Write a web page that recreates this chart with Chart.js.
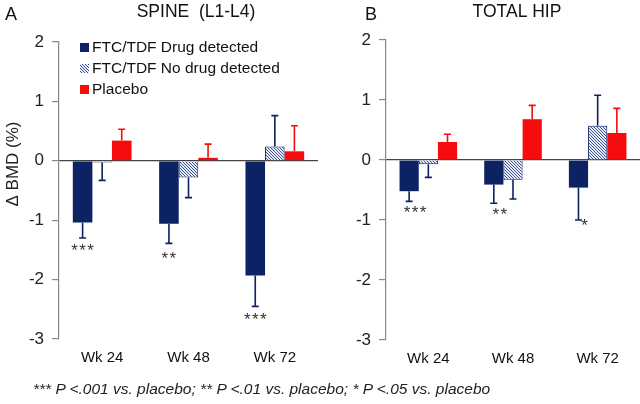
<!DOCTYPE html>
<html>
<head>
<meta charset="utf-8">
<script src="https://cdn.jsdelivr.net/npm/chart.js@4.4.1/dist/chart.umd.min.js"></script>
<style>
  html, body { margin: 0; padding: 0; background: #fff; }
  #wrap { position: relative; width: 640px; height: 404px; overflow: hidden; }
  #left { position: absolute; left: 0; top: 0; }
  #right { position: absolute; left: 320px; top: 0; }
  #note {
    position: absolute; left: 33px; top: 380px;
    font: italic 15.5px "Liberation Sans", Arial, sans-serif; color: #222;
    white-space: nowrap;
  }
</style>
</head>
<body>
<div id="wrap">
  <canvas id="left" width="320" height="404"></canvas>
  <canvas id="right" width="320" height="404"></canvas>
  <div id="note">*** <i>P</i> &lt;.001 vs. placebo; ** <i>P</i> &lt;.01 vs. placebo; * <i>P</i> &lt;.05 vs. placebo</div>
</div>
<script>
// ---- data ----
const weeks = ['Wk 24', 'Wk 48', 'Wk 72'];
const seriesLabels = ['FTC/TDF Drug detected', 'FTC/TDF No drug detected', 'Placebo'];
const yTicks = [2, 1, 0, -1, -2, -3];

// Spine (L1-L4): mean change and error bar length
const spineDrug = [-1.04, -1.06, -1.93];
const spineDrugErr = [0.26, 0.33, 0.52];
const spineNoDrug = [-0.03, -0.28, 0.24];
const spineNoDrugErr = [0.30, 0.34, 0.52];
const spinePlacebo = [0.34, 0.05, 0.16];
const spinePlaceboErr = [0.19, 0.23, 0.43];
const spineStars = ['***', '**', '***'];

// Total hip
const hipDrug = [-0.52, -0.41, -0.46];
const hipDrugErr = [0.17, 0.31, 0.54];
const hipNoDrug = [-0.07, -0.33, 0.57];
const hipNoDrugErr = [0.22, 0.32, 0.51];
const hipPlacebo = [0.30, 0.68, 0.45];
const hipPlaceboErr = [0.13, 0.23, 0.41];
const hipStars = ['***', '**', '*'];

const NAVY = '#0c2262';
const RED = '#f50d0d';
const FONT = '"Liberation Sans", Arial, sans-serif';

/**
 * Diagonal hatch used for the "no drug detected" bars
 */
function hatchPattern() {
    const c = document.createElement('canvas');
    c.width = 3; c.height = 3;
    const g = c.getContext('2d');
    g.fillStyle = '#e8ecf5';
    g.fillRect(0, 0, 3, 3);
    g.fillStyle = '#3a5290';
    // one pixel per row, stepping right -> "\" stripes
    for (let i = 0; i < 3; i++) g.fillRect(i, i, 1, 1);
    return g.createPattern(c, 'repeat');
}
const HATCH = hatchPattern();

/**
 * Error bars, significance stars, panel text and legend
 */
const extrasPlugin = {
    id: 'extras',
    afterDatasetsDraw(chart, args, opts) {
        const ctx = chart.ctx;
        const y = chart.scales.y;
        ctx.save();
        // error bars
        chart.data.datasets.forEach((ds, d) => {
            const meta = chart.getDatasetMeta(d);
            meta.data.forEach((bar, i) => {
                const v = ds.data[i];
                const end = v + Math.sign(v || 1) * ds.errors[i];
                const y0 = y.getPixelForValue(v);
                const y1 = y.getPixelForValue(end);
                ctx.strokeStyle = ds.errorColor;
                ctx.lineWidth = 1.6;
                ctx.beginPath();
                ctx.moveTo(bar.x, y0);
                ctx.lineTo(bar.x, y1);
                ctx.moveTo(bar.x - 3.5, y1);
                ctx.lineTo(bar.x + 3.5, y1);
                ctx.stroke();
            });
        });
        // stars under the drug-detected bars
        const meta0 = chart.getDatasetMeta(0);
        const ds0 = chart.data.datasets[0];
        ctx.fillStyle = '#333';
        ctx.font = '17px ' + FONT;
        ctx.textAlign = 'center';
        ctx.textBaseline = 'top';
        opts.stars.forEach((s, i) => {
            const bar = meta0.data[i];
            const yEnd = y.getPixelForValue(ds0.data[i] - ds0.errors[i]);
            const n = s.length;
            for (let k = 0; k < n; k++) {
                const dx = (k - (n - 1) / 2) * 8 + opts.starShift;
                ctx.fillText('*', bar.x + dx, yEnd + opts.starGap[i]);
            }
        });
        ctx.restore();
    },
    afterDraw(chart, args, opts) {
        const ctx = chart.ctx;
        ctx.save();
        ctx.fillStyle = '#111';
        ctx.textBaseline = 'middle';
        // panel letter
        ctx.textAlign = 'left';
        ctx.font = '18px ' + FONT;
        ctx.fillText(opts.letter, opts.letterX, 15);
        // panel title
        ctx.textAlign = 'center';
        ctx.font = '17.5px ' + FONT;
        ctx.fillText(opts.title, opts.titleX, 12);
        // y axis title
        if (opts.yTitle) {
            ctx.save();
            ctx.translate(13, 164);
            ctx.rotate(-Math.PI / 2);
            ctx.font = '17px ' + FONT;
            ctx.fillStyle = '#222';
            ctx.fillText(opts.yTitle, 0, 0);
            ctx.restore();
        }
        // legend
        if (opts.legend) {
            ctx.font = '15.5px ' + FONT;
            ctx.textAlign = 'left';
            chart.data.datasets.forEach((ds, d) => {
                const cy = 47.5 + d * 21;
                ctx.fillStyle = ds.backgroundColor;
                ctx.fillRect(80, cy - 4.5, 9, 9);
                ctx.fillStyle = '#111';
                ctx.fillText(ds.label, 92, cy);
            });
        }
        ctx.restore();
    }
};

function buildDatasets(drug, drugErr, noDrug, noDrugErr, placebo, placeboErr) {
    return [
        { label: seriesLabels[0], data: drug, errors: drugErr, errorColor: NAVY,
          backgroundColor: NAVY, borderWidth: 0 },
        { label: seriesLabels[1], data: noDrug, errors: noDrugErr, errorColor: NAVY,
          backgroundColor: HATCH, borderColor: NAVY, borderWidth: 1 },
        { label: seriesLabels[2], data: placebo, errors: placeboErr, errorColor: RED,
          backgroundColor: RED, borderWidth: 0 }
    ];
}

function makePanel(canvasId, datasets, axisWidth, padding, extras) {
    return new Chart(document.getElementById(canvasId), {
        type: 'bar',
        data: { labels: weeks, datasets: datasets },
        options: {
            responsive: false,
            animation: false,
            layout: { padding: padding },
            datasets: { bar: { categoryPercentage: 0.68, barPercentage: 1.0 } },
            plugins: {
                legend: { display: false },
                tooltip: { enabled: false },
                extras: extras
            },
            scales: {
                x: {
                    grid: { display: false, drawTicks: false },
                    border: { display: false },
                    ticks: { color: '#111', font: { size: 15, family: FONT }, padding: 10 },
                    afterFit(scale) { scale.height = 30; }
                },
                y: {
                    min: -3, max: 2,
                    afterBuildTicks(scale) { scale.ticks = yTicks.map(v => ({ value: v })); },
                    grid: {
                        color: c => (c.tick && c.tick.value === 0 ? '#444' : 'rgba(0,0,0,0)'),
                        lineWidth: 1.2,
                        tickColor: '#888',
                        tickLength: 7
                    },
                    border: { color: '#888', width: 1.2 },
                    ticks: { color: '#222', font: { size: 17, family: FONT }, padding: 8 },
                    afterFit(scale) { scale.width = axisWidth; }
                }
            }
        },
        plugins: [extrasPlugin]
    });
}

makePanel('left',
    buildDatasets(spineDrug, spineDrugErr, spineNoDrug, spineNoDrugErr, spinePlacebo, spinePlaceboErr),
    59, { top: 42, right: 2, bottom: 35, left: 0 },
    { letter: 'A', letterX: 5, title: 'SPINE  (L1-L4)', titleX: 196, yTitle: '\u0394 BMD (%)',
      legend: true, stars: spineStars, starShift: 0, starGap: [5, 7, 5] });

makePanel('right',
    buildDatasets(hipDrug, hipDrugErr, hipNoDrug, hipNoDrugErr, hipPlacebo, hipPlaceboErr),
    66, { top: 40, right: 0, bottom: 34, left: 0 },
    { letter: 'B', letterX: 45, title: 'TOTAL HIP', titleX: 197, yTitle: null,
      legend: false, stars: hipStars, starShift: 6, starGap: [3, 4, -2] });
</script>
</body>
</html>
